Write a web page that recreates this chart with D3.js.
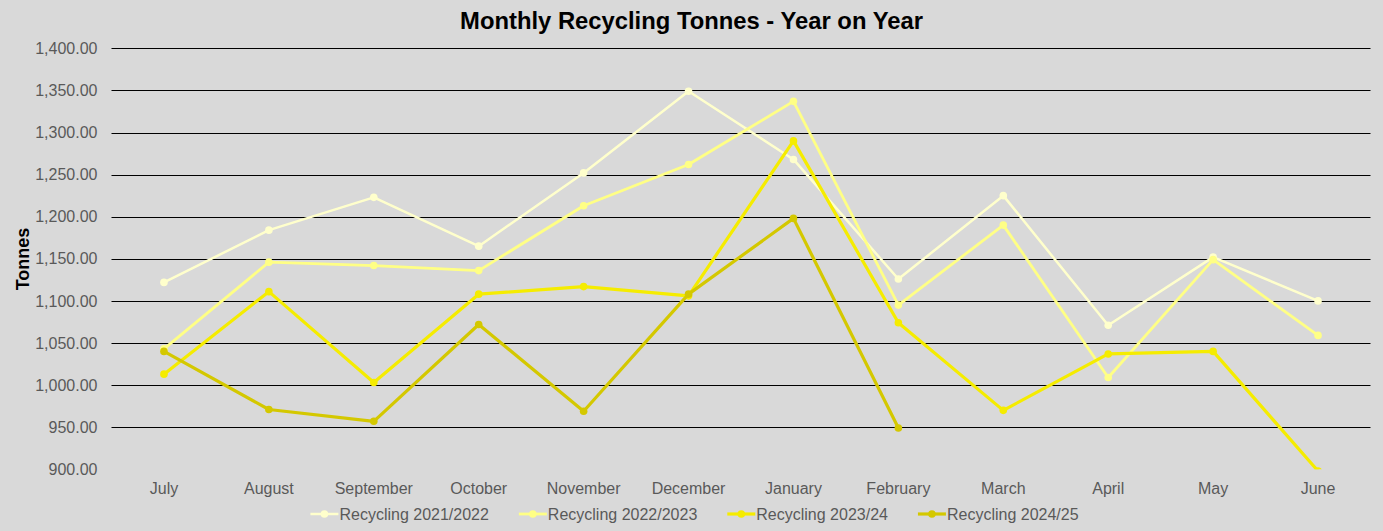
<!DOCTYPE html>
<html>
<head>
<meta charset="utf-8">
<script src="https://cdn.jsdelivr.net/npm/d3@7"></script>
<style>
  html, body { margin: 0; padding: 0; background: #d9d9d9; }
  svg { display: block; font-family: Arial, "Liberation Sans", sans-serif; }
</style>
</head>
<body>
<svg id="chart" width="1383" height="531"></svg>
<script>
// données
const months = ['July', 'August', 'September', 'October', 'November', 'December',
                'January', 'February', 'March', 'April', 'May', 'June'];
const yTicks = [900, 950, 1000, 1050, 1100, 1150, 1200, 1250, 1300, 1350, 1400];

const rec2122 = [1122, 1184, 1223, 1165, 1252, 1349, 1268, 1126, 1225, 1071, 1152, 1100];
const rec2223 = [1043, 1146, 1142, 1136, 1213, 1262, 1337, 1095, 1190, 1009, 1149, 1059];
const rec2324 = [1013, 1111, 1003, 1108, 1117, 1106, 1290, 1074, 970, 1037, 1040, 898];
const rec2425 = [1040, 971, 957, 1072, 969, 1108, 1198, 949, null, null, null, null];

const seriesNames = ['Recycling 2021/2022', 'Recycling 2022/2023', 'Recycling 2023/24', 'Recycling 2024/25'];
const seriesColors = ['#ffffcc', '#ffff85', '#f5ec00', '#d4c800'];
const seriesWidths = [2.5, 2.8, 3.2, 3.2];

const series = [rec2122, rec2223, rec2324, rec2425].map((values, i) => ({
    name: seriesNames[i],
    color: seriesColors[i],
    width: seriesWidths[i],
    values: values.map((v, j) => ({ month: months[j], value: v }))
}));

const svg = d3.select('#chart');
const W = 1383, H = 531;
const margin = { left: 111.5, right: 12.5, top: 48.3, bottom: 61.7 };

svg.append('rect').attr('width', W).attr('height', H).attr('fill', '#d9d9d9');

const x = d3.scaleBand()
    .domain(months)
    .range([margin.left, W - margin.right])
    .padding(0);

const y = d3.scaleLinear()
    .domain([900, 1400])
    .range([H - margin.bottom, margin.top]);

const cx = m => x(m) + x.bandwidth() / 2;

// --- Titre ---
svg.append('text')
    .attr('x', 691.5).attr('y', 29)
    .attr('text-anchor', 'middle')
    .attr('font-size', 23.8).attr('font-weight', 'bold')
    .attr('fill', '#000')
    .text('Monthly Recycling Tonnes - Year on Year');

// --- Axe Y + grille ---
const yAxis = svg.append('g')
    .attr('transform', `translate(${margin.left},0)`)
    .call(d3.axisLeft(y).tickValues(yTicks).tickSize(0).tickPadding(14)
        .tickFormat(d3.format(',.2f')));
yAxis.select('.domain').remove();
yAxis.selectAll('text').attr('font-size', 16).attr('fill', '#595959')
    .attr('font-family', 'Arial, "Liberation Sans", sans-serif');

svg.append('g')
    .selectAll('line')
    .data(yTicks.filter(t => t > 900))
    .join('line')
    .attr('x1', margin.left).attr('x2', W - margin.right)
    .attr('y1', d => Math.round(y(d)) + 0.5).attr('y2', d => Math.round(y(d)) + 0.5)
    .attr('stroke', '#000').attr('stroke-width', 1.2);

svg.append('text')
    .attr('transform', `translate(29,259) rotate(-90)`)
    .attr('text-anchor', 'middle')
    .attr('font-size', 18).attr('font-weight', 'bold')
    .text('Tonnes');

// --- Axe X ---
const xAxis = svg.append('g')
    .attr('transform', `translate(0,${H - margin.bottom})`)
    .call(d3.axisBottom(x).tickSize(0).tickPadding(13));
xAxis.select('.domain').remove();
xAxis.selectAll('text').attr('font-size', 16).attr('fill', '#595959')
    .attr('font-family', 'Arial, "Liberation Sans", sans-serif');

// --- Séries ---
svg.append('clipPath').attr('id', 'plot-clip')
    .append('rect')
    .attr('x', margin.left).attr('y', margin.top - 10)
    .attr('width', W - margin.left - margin.right)
    .attr('height', H - margin.bottom - margin.top + 10);

const plot = svg.append('g').attr('clip-path', 'url(#plot-clip)');

const line = d3.line()
    .defined(d => d.value != null)
    .x(d => cx(d.month))
    .y(d => y(d.value));

series.forEach(s => {
    const g = plot.append('g');
    g.append('path')
        .datum(s.values)
        .attr('fill', 'none')
        .attr('stroke', s.color)
        .attr('stroke-width', s.width)
        .attr('stroke-linejoin', 'round')
        .attr('d', line);
    g.selectAll('circle')
        .data(s.values.filter(d => d.value != null))
        .join('circle')
        .attr('cx', d => cx(d.month))
        .attr('cy', d => y(d.value))
        .attr('r', 3.8)
        .attr('fill', s.color);
});

// --- Légende ---
const legend = svg.append('g');
let lx = 0;
series.forEach(s => {
    const item = legend.append('g').attr('transform', `translate(${lx},0)`);
    item.append('line')
        .attr('x1', 0).attr('x2', 28).attr('y1', 0).attr('y2', 0)
        .attr('stroke', s.color).attr('stroke-width', s.width);
    item.append('circle').attr('cx', 14).attr('cy', 0).attr('r', 3.8).attr('fill', s.color);
    const t = item.append('text')
        .attr('x', 29).attr('y', 6)
        .attr('font-size', 16).attr('fill', '#595959')
        .text(s.name);
    lx += 29 + t.node().getComputedTextLength() + 30;
});
const legendWidth = lx - 30;
legend.attr('transform', `translate(${694.5 - legendWidth / 2},514)`);
</script>
</body>
</html>
